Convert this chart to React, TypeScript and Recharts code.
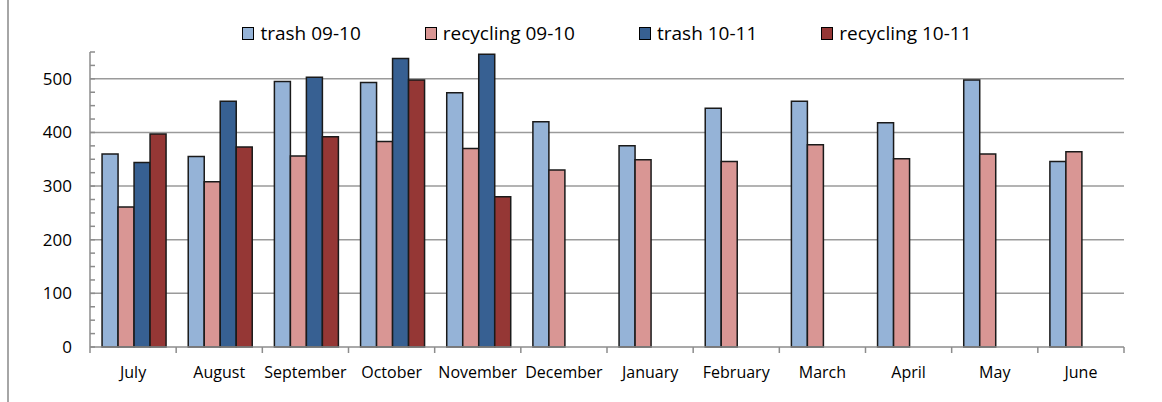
import { BarChart, Bar, XAxis, YAxis, CartesianGrid, Legend } from "recharts"

const months = [
  "July", "August", "September", "October", "November", "December",
  "January", "February", "March", "April", "May", "June",
]
const trash0910 = [360, 355, 495, 493, 474, 420, 375, 445, 458, 418, 498, 346]
const recycling0910 = [261, 308, 356, 383, 370, 330, 349, 346, 377, 351, 360, 364]
const trash1011 = [344, 458, 503, 538, 546, null, null, null, null, null, null, null]
const recycling1011 = [397, 373, 392, 498, 280, null, null, null, null, null, null, null]

const valueTicks = [0, 25, 50, 75, 100, 125, 150, 175, 200, 225, 250, 275, 300, 325, 350, 375, 400, 425, 450, 475, 500, 525, 550]
const labelledValues = [0, 100, 200, 300, 400, 500]
const gridValues = [100, 200, 300, 400, 500]

const series = [
  { key: "t0910", name: "trash 09-10", color: "#95B3D7" },
  { key: "r0910", name: "recycling 09-10", color: "#D99694" },
  { key: "t1011", name: "trash 10-11", color: "#376092" },
  { key: "r1011", name: "recycling 10-11", color: "#953735" },
]

const data = months.map((month, i) => ({
  month,
  t0910: trash0910[i],
  r0910: recycling0910[i],
  t1011: trash1011[i],
  r1011: recycling1011[i],
}))

const font = "'Open Sans', 'Liberation Sans', sans-serif"
const axisGray = "#8c8c8c"

function LegendBox() {
  return (
    <div style={{ display: "flex", justifyContent: "center", gap: 64, fontFamily: font, fontSize: 19, color: "#000" }}>
      {series.map((s) => (
        <div key={s.key} style={{ display: "flex", alignItems: "center" }}>
          <span style={{ width: 10, height: 11, background: s.color, border: "1px solid #000", marginRight: 6 }} />
          <span>{s.name}</span>
        </div>
      ))}
    </div>
  )
}

// month label plus the small tick marks that sit between months
function MonthTick(props: any) {
  const { x, y, payload, index } = props
  const half = payload.offset || 0
  const axisY = y - 19
  return (
    <g>
      <line x1={x - half} x2={x - half} y1={axisY} y2={axisY + 6} stroke={axisGray} strokeWidth={1.5} />
      {index === months.length - 1 && (
        <line x1={x + half} x2={x + half} y1={axisY} y2={axisY + 6} stroke={axisGray} strokeWidth={1.5} />
      )}
      <text x={x} y={y} dy={12} textAnchor="middle" fill="#000" fontSize={16} fontFamily={font}>
        {payload.value}
      </text>
    </g>
  )
}

// only the hundreds carry a label; the tick lines come from the axis itself
function ValueTick(props: any) {
  const { x, y, payload } = props
  if (!labelledValues.includes(payload.value)) return <g />
  return (
    <text x={x - 14} y={y} dy={6} textAnchor="end" fill="#000" fontSize={17} fontFamily={font}>
      {payload.value}
    </text>
  )
}

export default function App() {
  return (
    <div style={{ position: "absolute", left: 0, top: 0, width: 1162, height: 402, background: "#fff" }}>
      <div style={{ position: "absolute", left: 7, top: 0, width: 2, height: 402, background: "#a6a6a6" }} />
      <BarChart
        width={1162}
        height={402}
        data={data}
        margin={{ top: 52, right: 38, left: 0, bottom: 15 }}
        barCategoryGap="14%"
        barGap={0}
      >
        <CartesianGrid vertical={false} stroke="#9a9a9a" strokeWidth={1.5} horizontalValues={gridValues} />
        <XAxis
          dataKey="month"
          height={40}
          tickLine={false}
          tickSize={0}
          tickMargin={19}
          interval={0}
          axisLine={{ stroke: axisGray, strokeWidth: 1.5 }}
          tick={<MonthTick />}
        />
        <YAxis
          domain={[0, 550]}
          ticks={valueTicks}
          interval={0}
          width={90}
          tickSize={-5}
          tickMargin={9}
          axisLine={{ stroke: axisGray, strokeWidth: 1.5 }}
          tickLine={{ stroke: axisGray, strokeWidth: 1.5 }}
          tick={<ValueTick />}
        />
        <Legend
          verticalAlign="middle"
          align="center"
          wrapperStyle={{ top: 20, left: 90, width: 1034 }}
          content={() => <LegendBox />}
        />
        {series.map((s) => (
          <Bar
            key={s.key}
            dataKey={s.key}
            name={s.name}
            fill={s.color}
            stroke="#1a1a1a"
            strokeWidth={1.5}
            isAnimationActive={false}
          />
        ))}
      </BarChart>
    </div>
  )
}
